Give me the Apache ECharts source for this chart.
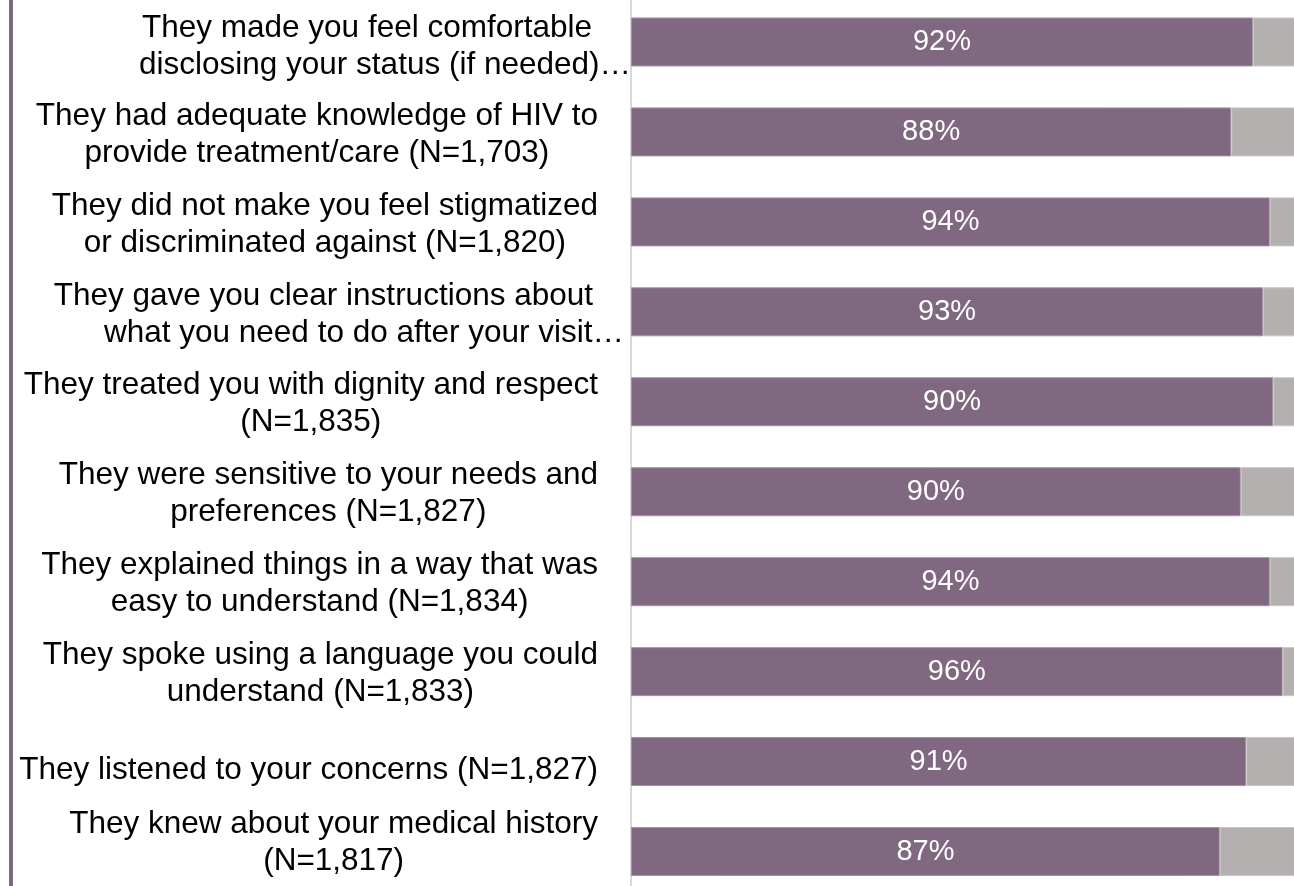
<!DOCTYPE html>
<html>
<head>
<meta charset="utf-8">
<script src="https://cdn.jsdelivr.net/npm/echarts@6/dist/echarts.min.js"></script>
<style>
  html, body { margin: 0; padding: 0; background: #ffffff; overflow: hidden; width: 1294px; height: 886px; }
  #chart { position: absolute; left: 0; top: -3px; width: 1307px; height: 900px; }
</style>
</head>
<body>
<div id="chart"></div>
<script>
const categories = [
  "They made you feel comfortable\ndisclosing your status (if needed)…",
  "They had adequate knowledge of HIV to\nprovide treatment/care (N=1,703)",
  "They did not make you feel stigmatized\nor discriminated against (N=1,820)",
  "They gave you clear instructions about\nwhat you need to do after your visit…",
  "They treated you with dignity and respect\n(N=1,835)",
  "They were sensitive to your needs and\npreferences (N=1,827)",
  "They explained things in a way that was\neasy to understand (N=1,834)",
  "They spoke using a language you could\nunderstand (N=1,833)",
  "They listened to your concerns (N=1,827)",
  "They knew about your medical history\n(N=1,817)"
];
// purple segment length as drawn
const agreeValues = [92.0, 88.8, 94.5, 93.5, 95.0, 90.2, 94.5, 96.4, 91.0, 87.1];
// printed labels inside the purple bars
const agreeLabels = ["92%", "88%", "94%", "93%", "90%", "90%", "94%", "96%", "91%", "87%"];
// remaining (gray) segment
const otherValues = agreeValues.map(v => +(100 - v).toFixed(1));

// label layout tweaks (style only): per-category padding and line styles
const labelPadding = {
  0: [9, -33, 0, 0],
  3: [5, -26, 0, 0],
  8: [18, 0, 0, 0],
  9: [0, 0, 17, 0]
};
const firstLineStyle = { 0: 'r38', 3: 'r31' };

const PURPLE = '#7f6880';
const GRAY = '#b4b0af';
const FONT = "'Liberation Sans', Arial, sans-serif";
const FS = 31.5, LH = 37;

const chart = echarts.init(document.getElementById('chart'));
chart.setOption({
  backgroundColor: '#ffffff',
  animation: false,
  graphic: [{
    type: 'rect',
    left: 9, top: 0,
    shape: { width: 4, height: 900 },
    style: { fill: PURPLE },
    silent: true
  }],
  grid: { left: 631, right: 0, top: 0, bottom: 0, containLabel: false },
  xAxis: {
    type: 'value', min: 0, max: 100,
    show: false
  },
  yAxis: {
    type: 'category',
    inverse: true,
    data: categories.map((c, i) => labelPadding[i]
      ? { value: c, textStyle: { padding: labelPadding[i] } }
      : c),
    axisLine: { show: true, lineStyle: { color: '#d9d9d9', width: 2 } },
    axisTick: { show: false },
    splitLine: { show: false },
    axisLabel: {
      margin: 33,
      align: 'right',
      padding: [5, 0, 0, 0],
      color: '#000000',
      fontFamily: FONT,
      fontSize: FS,
      lineHeight: LH,
      formatter: function (v, i) {
        const lines = v.split('\n');
        if (firstLineStyle[i]) {
          return '{' + firstLineStyle[i] + '|' + lines[0] + '}\n{r0|' + lines[1] + '}';
        }
        return lines.map(l => '{c|' + l + '}').join('\n');
      },
      rich: {
        c: { align: 'center', fontFamily: FONT, fontSize: FS, lineHeight: LH, color: '#000000' },
        r0: { align: 'right', fontFamily: FONT, fontSize: FS, lineHeight: LH, color: '#000000' },
        r38: { align: 'right', padding: [0, 39, 0, 0], fontFamily: FONT, fontSize: FS, lineHeight: LH, color: '#000000' },
        r31: { align: 'right', padding: [0, 31, 0, 0], fontFamily: FONT, fontSize: FS, lineHeight: LH, color: '#000000' }
      }
    }
  },
  series: [
    {
      name: 'Agree',
      type: 'bar',
      stack: 'total',
      barWidth: 49,
      data: agreeValues,
      itemStyle: { color: PURPLE, borderColor: '#a391a3', borderWidth: 1 },
      label: {
        show: true,
        position: 'inside',
        color: '#ffffff',
        fontFamily: FONT,
        fontSize: 29,
        formatter: p => agreeLabels[p.dataIndex]
      }
    },
    {
      name: 'Other',
      type: 'bar',
      stack: 'total',
      barWidth: 49,
      data: otherValues,
      itemStyle: { color: GRAY, borderColor: '#c9c6c5', borderWidth: 1 }
    }
  ]
});
</script>
</body>
</html>
